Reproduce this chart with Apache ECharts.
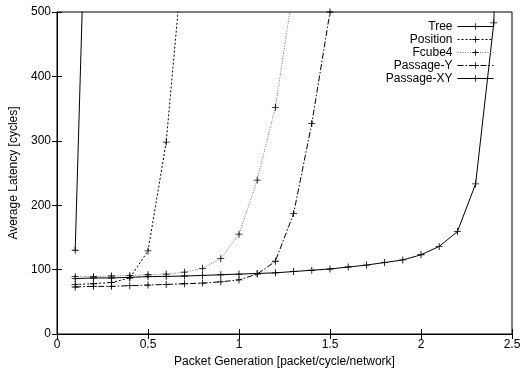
<!DOCTYPE html>
<html>
<head>
<meta charset="utf-8">
<script src="https://cdn.jsdelivr.net/npm/echarts@6/dist/echarts.min.js"></script>
<style>
  html, body { margin: 0; padding: 0; background: #fff; }
  #chart { width: 525px; height: 373px; }
</style>
</head>
<body>
<div id="chart"></div>
<script>
// Packet generation rate (x) and average latency (y) for each routing scheme
const treeX = [0.1, 0.2];
const treeY = [130, 1100];

const positionX = [0.1, 0.2, 0.3, 0.4, 0.5, 0.6, 0.7];
const positionY = [77, 78, 80, 87, 129, 298, 610];

const fcube4X = [0.1, 0.2, 0.3, 0.4, 0.5, 0.6, 0.7, 0.8, 0.9, 1.0, 1.1, 1.2, 1.3];
const fcube4Y = [89, 89, 90, 91, 92, 93, 96, 102, 117, 155, 239, 352, 540];

const passageYX = [0.1, 0.2, 0.3, 0.4, 0.5, 0.6, 0.7, 0.8, 0.9, 1.0, 1.1, 1.2, 1.3, 1.4, 1.5, 1.6];
const passageYY = [73, 74, 74, 75, 76, 77, 78, 79, 81, 84, 93, 113, 187, 327, 500, 900];

const passageXYX = [0.1, 0.2, 0.3, 0.4, 0.5, 0.6, 0.7, 0.8, 0.9, 1.0, 1.1, 1.2, 1.3, 1.4, 1.5, 1.6, 1.7, 1.8, 1.9, 2.0, 2.1, 2.2, 2.3, 2.4, 2.5];
const passageXYY = [86, 87, 87, 88, 89, 89.5, 90, 91, 92, 93, 94, 95, 97, 99, 101, 104, 107, 111, 115, 123, 136, 159, 233, 483, 1500];

const xTicks = [0, 0.5, 1, 1.5, 2, 2.5];
const yTicks = [0, 100, 200, 300, 400, 500];

const pairs = (xs, ys) => xs.map((x, i) => [x, ys[i]]);

const FONT = 'Liberation Sans';
const PLUS = 'path://M4.4,0H5.6V4.4H10V5.6H5.6V10H4.4V5.6H0V4.4H4.4Z';

function series(name, xs, ys, lineColor, type) {
  return {
    name: name,
    type: 'line',
    data: pairs(xs, ys),
    symbol: PLUS,
    symbolSize: 7,
    showSymbol: true,
    clip: true,
    lineStyle: { color: lineColor, width: 1, type: type },
    itemStyle: { color: '#000' },
    emphasis: { disabled: true },
    animation: false
  };
}

const chart = echarts.init(document.getElementById('chart'));

const axisLine = { show: true, lineStyle: { color: '#000', width: 1 } };
const tick = { show: true, inside: true, length: 5, lineStyle: { color: '#000' } };

chart.setOption({
  backgroundColor: '#fff',
  animation: false,
  grid: { left: 57, right: 13, top: 12, bottom: 39, show: true, borderColor: '#000', borderWidth: 1 },
  legend: {
    orient: 'vertical',
    right: 26,
    top: 15,
    align: 'right',
    itemWidth: 36,
    itemHeight: 8,
    itemGap: 0,
    lineStyle: { width: 1, type: 'inherit' },
    itemStyle: { borderWidth: 0 },
    textStyle: { fontFamily: FONT, fontSize: 12, color: '#000', lineHeight: 13 },
    data: ['Tree', 'Position', 'Fcube4', 'Passage-Y', 'Passage-XY']
  },
  xAxis: [{
    type: 'value',
    min: xTicks[0],
    max: xTicks[xTicks.length - 1],
    interval: 0.5,
    name: 'Packet Generation [packet/cycle/network]',
    nameLocation: 'middle',
    nameGap: 20,
    nameTextStyle: { fontFamily: FONT, fontSize: 12, color: '#000' },
    axisLine: axisLine,
    axisTick: tick,
    splitLine: { show: false },
    axisLabel: { fontFamily: FONT, fontSize: 12, color: '#000', margin: 5 }
  }, {
    type: 'value',
    position: 'top',
    min: xTicks[0],
    max: xTicks[xTicks.length - 1],
    interval: 0.5,
    axisLine: axisLine,
    axisTick: tick,
    splitLine: { show: false },
    axisLabel: { show: false }
  }],
  yAxis: [{
    type: 'value',
    min: yTicks[0],
    max: yTicks[yTicks.length - 1],
    interval: 100,
    name: 'Average Latency [cycles]',
    nameLocation: 'middle',
    nameGap: 33,
    nameTextStyle: { fontFamily: FONT, fontSize: 12, color: '#000' },
    axisLine: axisLine,
    axisTick: tick,
    splitLine: { show: false },
    axisLabel: { fontFamily: FONT, fontSize: 12, color: '#000', margin: 6 }
  }, {
    type: 'value',
    position: 'right',
    min: yTicks[0],
    max: yTicks[yTicks.length - 1],
    interval: 100,
    axisLine: axisLine,
    axisTick: tick,
    splitLine: { show: false },
    axisLabel: { show: false }
  }],
  series: [
    series('Tree', treeX, treeY, '#000', 'solid'),
    series('Position', positionX, positionY, '#000', [2, 2]),
    series('Fcube4', fcube4X, fcube4Y, '#777', [1, 1.5]),
    series('Passage-Y', passageYX, passageYY, '#000', [6, 2, 1.5, 2]),
    series('Passage-XY', passageXYX, passageXYY, '#000', 'solid')
  ]
});
</script>
</body>
</html>
